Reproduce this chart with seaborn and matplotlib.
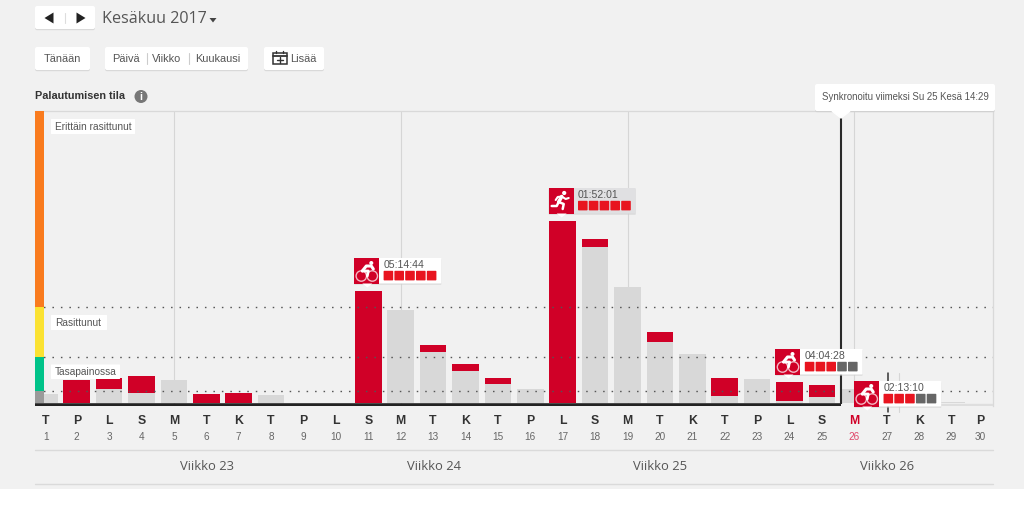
import matplotlib
matplotlib.use("Agg")
import matplotlib.pyplot as plt
from matplotlib.patches import Rectangle, FancyBboxPatch, Polygon, Circle
import pandas as pd
import seaborn as sns

# -----------------------------
# data
# -----------------------------
days = list(range(1, 31))
day_letters = ["T", "P", "L", "S", "M", "T", "K", "T", "P", "L",
               "S", "M", "T", "K", "T", "P", "L", "S", "M", "T",
               "K", "T", "P", "L", "S", "M", "T", "K", "T", "P"]
total_load = [9, 23, 25, 27, 23, 9, 10, 8, 0, 0,
              112, 93, 58, 39, 25, 14, 182, 164, 116, 71,
              49, 25, 24, 21, 18, 14, 0, 0, 1.5, 0]
old_load = [9, 0, 14, 10, 23, 0, 0, 8, 0, 0,
            0, 93, 51, 32, 19, 14, 0, 156, 116, 61,
            49, 7, 24, 2, 6, 14, 0, 0, 1.5, 0]

level_names = ["Erittäin rasittunut", "Rasittunut", "Tasapainossa"]
level_edges = [0, 12, 46, 96, 292]
level_colors = ["#9a9a9a", "#00c389", "#fbe232", "#f97b1e"]

week_names = ["Viikko 23", "Viikko 24", "Viikko 25", "Viikko 26"]
week_mid_days = [6, 13, 20, 27]
mondays = [5, 12, 19, 26]
sync_day = 25.59

workout_days = [11, 17, 24, 26.43]
workout_tops = [112, 182, 21, -11]
workout_times = ["05:14:44", "01:52:01", "04:04:28", "02:13:10"]
workout_filled = [5, 5, 3, 3]
workout_kinds = ["bike", "run", "bike", "bike"]

# -----------------------------
# layout
# -----------------------------
BG = "#f1f1f1"
RED = "#d00027"
TXT = "#555555"
SANS = "Liberation Sans"
OPEN = "Open Sans"
day0_px, day_px = 76.7, 32.4
left_px, right_px, top_px, bottom_px, base_px = 35, 993, 111, 406, 403

sns.set_theme(style="white")
plt.rcParams["font.family"] = [SANS, "DejaVu Sans"]

fig = plt.figure(figsize=(10.24, 5.07), dpi=100, facecolor=BG)
ax = fig.add_axes([left_px / 1024, 1 - bottom_px / 507,
                   (right_px - left_px) / 1024, (bottom_px - top_px) / 507])
ax.set_facecolor(BG)

ov = fig.add_axes([0, 0, 1, 1], zorder=5)
ov.set_xlim(0, 1024)
ov.set_ylim(507, 0)
ov.axis("off")
ov.patch.set_alpha(0)

# -----------------------------
# bars
# -----------------------------
df = pd.DataFrame({"day": days, "total": total_load, "old": old_load})
sns.barplot(data=df, x="day", y="total", native_scale=True, width=0.82,
            color=RED, saturation=1, linewidth=0, ax=ax, zorder=2)
sns.barplot(data=df, x="day", y="old", native_scale=True, width=0.82,
            color="#d8d8d8", saturation=1, linewidth=0, ax=ax, zorder=2.1)

ax.set_xlim(2 + (left_px - day0_px) / day_px, 2 + (right_px - day0_px) / day_px)
ax.set_ylim(base_px - bottom_px, base_px - top_px)
ax.set_xlabel("")
ax.set_ylabel("")
ax.set_yticks([])

for s in ["left", "bottom"]:
    ax.spines[s].set_visible(False)
for s in ["top", "right"]:
    ax.spines[s].set_color("#d9d9d9")
    ax.spines[s].set_linewidth(0.9)

# tick labels, two rows
label_x = [d + 0.05 if d == 1 else d - 0.12 if d == 30 else d for d in days]
ax.set_xticks(label_x, [str(d) for d in days], fontsize=7.2, color="#666666")
ax.tick_params(axis="x", length=0, pad=18.5)
for lab, d in zip(ax.get_xticklabels(), days):
    if d == 26:
        lab.set_color("#e0476a")
for x, letter, d in zip(label_x, day_letters, days):
    ax.annotate(letter, xy=(x, 0), xycoords=ax.get_xaxis_transform(),
                xytext=(0, -15.5), textcoords="offset pixels", ha="center", va="center",
                fontsize=8.8, fontweight="bold", color=RED if d == 26 else "#333333",
                annotation_clip=False)

# guides
ax.vlines(mondays, ax.get_ylim()[0], ax.get_ylim()[1], color="#d6d6d6", lw=0.8, zorder=0.5)
for level in level_edges[1:4]:
    ax.axhline(level, color="#555555", lw=1.0, ls=(0, (1.1, 5)), zorder=3)
for i, c in enumerate(level_colors):
    ax.axhspan(level_edges[i], level_edges[i + 1], xmin=0, xmax=9 / 958, color=c, lw=0, zorder=4)
ax.hlines(-1.5, 28.6, ax.get_xlim()[1], color="#dedede", lw=2.4, zorder=3)
ax.hlines(-1.5, ax.get_xlim()[0], sync_day, color="#232323", lw=2.6, zorder=4)
ax.vlines(sync_day, -1, 285, color="#2a2a2a", lw=1.5, zorder=4)


# -----------------------------
# page furniture
# -----------------------------
def box(x0, y0, x1, y1, fc="white", shadow=True, round_px=2, z=2):
    if shadow:
        ov.add_patch(FancyBboxPatch((x0, y0 + 1.2), x1 - x0, y1 - y0,
                                    boxstyle=f"round,pad=0,rounding_size={round_px}",
                                    fc="#cfcfcf", ec="none", alpha=0.7, zorder=z))
    ov.add_patch(FancyBboxPatch((x0, y0), x1 - x0, y1 - y0,
                                boxstyle=f"round,pad=0,rounding_size={round_px}",
                                fc=fc, ec="none", zorder=z + 0.1))


def label(x, y, s, size=8, color=TXT, ha="center", family=SANS, weight="normal", z=3):
    ov.text(x, y, s, fontsize=size, color=color, ha=ha, va="center",
            family=family, fontweight=weight, zorder=z)


# month navigation
box(35, 6, 95, 29)
ov.add_patch(Polygon([[44.5, 18], [53.5, 12.5], [53.5, 23.5]], fc="#222222", ec="none", zorder=3))
ov.add_patch(Polygon([[85.5, 18], [76.5, 12.5], [76.5, 23.5]], fc="#222222", ec="none", zorder=3))
ov.plot([64.5, 64.5], [13, 23], color="#dddddd", lw=0.8, zorder=3)
label(102, 19, "Kesäkuu 2017", size=11.6, ha="left", family=OPEN)
ov.add_patch(Polygon([[209.5, 18], [216.5, 18], [213, 22.5]], fc="#444444", ec="none", zorder=3))

# view buttons
box(35, 47, 90, 70)
label(62.5, 58.5, "Tänään", size=7.9)
box(105, 47, 248, 70)
label(126, 58.5, "Päivä", size=7.9)
label(167, 58.5, "Viikko", size=7.9)
label(218, 58.5, "Kuukausi", size=7.9)
for sep in [146.5, 188.5]:
    ov.plot([sep, sep], [53, 64], color="#cccccc", lw=0.8, zorder=3)
box(264, 47, 324, 70)
ov.add_patch(Rectangle((272.5, 53), 14, 11, fc="none", ec="#333333", lw=1.1, zorder=3))
ov.plot([272.5, 286.5], [55.5, 55.5], color="#333333", lw=1.3, zorder=3)
ov.plot([276, 276], [50.5, 53], color="#333333", lw=1, zorder=3)
ov.plot([283, 283], [50.5, 53], color="#333333", lw=1, zorder=3)
ov.plot([279.5, 279.5], [57, 63], color="#333333", lw=1, zorder=3)
ov.plot([276.5, 282.5], [60, 60], color="#333333", lw=1, zorder=3)
label(303, 58.5, "Lisää", size=7.9)

# title row
label(35, 96, "Palautumisen tila", size=7.8, color="#333333", ha="left", weight="bold")
ov.add_patch(Circle((141, 96.5), 6.5, fc="#777777", ec="none", zorder=3))
label(141, 96.5, "i", size=7.5, color="white", weight="bold", z=4)

# level name tags
tag_rows = [(119, 134, 135), (315, 330, 107), (364.5, 379, 120)]
for name, (y0, y1, x1) in zip(level_names, tag_rows):
    box(51, y0, x1, y1, shadow=False, round_px=0.5, z=4)
    label(55, (y0 + y1) / 2, name, size=7.3, ha="left", z=5)

# sync tooltip
box(815, 84, 995, 111, z=4)
ov.add_patch(Polygon([[832, 111], [850, 111], [841, 118]], fc="white", zorder=4.2))
label(905, 97.5, "Synkronoitu viimeksi Su 25 Kesä 14:29", size=6.9, z=5)

# hover cursor lines near the last badge
ov.plot([887.6, 887.6], [373, 412], color="#333333", lw=1.1, zorder=1)
ov.plot([899.3, 899.3], [373, 412], color="#d6d6d6", lw=0.8, zorder=1)

# weeks
for y in [450, 484]:
    ov.plot([left_px, right_px], [y, y], color="#dadada", lw=1, zorder=1)
for d, name in zip(week_mid_days, week_names):
    label(day0_px + (d - 2) * day_px + 0.5, 467, name, size=9.4, family=OPEN)
ov.add_patch(Rectangle((0, 489), 1024, 18, fc="white", ec="none", zorder=1))


# -----------------------------
# workout badges
# -----------------------------
def draw_bike(x, y):
    c = dict(color="white", zorder=7, solid_capstyle="round")
    for cx in [x + 7, x + 18]:
        ov.add_patch(Circle((cx, y + 18), 5.2, fc="none", ec="#f3b7c3", lw=1, zorder=7))
    ov.add_patch(Circle((x + 17, y + 5), 2, fc="white", ec="none", zorder=7))
    ov.plot([x + 8, x + 12, x + 17, x + 19], [y + 13, y + 8, y + 8, y + 11], lw=2.2, **c)
    ov.plot([x + 8, x + 14, x + 13], [y + 13, y + 13, y + 18], lw=2, **c)


def draw_run(x, y):
    c = dict(color="white", zorder=7, solid_capstyle="round")
    ov.add_patch(Circle((x + 15.5, y + 5), 2.1, fc="white", ec="none", zorder=7))
    ov.plot([x + 13, x + 10], [y + 8.5, y + 14], lw=2.6, **c)
    ov.plot([x + 13, x + 17, x + 20], [y + 8.5, y + 11, y + 10], lw=1.5, **c)
    ov.plot([x + 13, x + 9, x + 7], [y + 8.5, y + 9, y + 12], lw=1.5, **c)
    ov.plot([x + 10, x + 15, x + 14], [y + 14, y + 16, y + 21], lw=1.8, **c)
    ov.plot([x + 10, x + 8, x + 3], [y + 14, y + 18, y + 18], lw=1.8, **c)


for day, top, when, filled, kind in zip(workout_days, workout_tops, workout_times,
                                        workout_filled, workout_kinds):
    px = ov.transData.inverted().transform(ax.transData.transform((day, top)))
    x0, y0 = px[0] - 14, px[1] - 33
    panel = "#e0e0e2" if kind == "run" else "white"
    box(x0, y0, x0 + 87, y0 + 25.5, fc=panel, round_px=0.5, z=5)
    ov.add_patch(Rectangle((x0, y0), 25, 25.5, fc=RED, ec="none", zorder=6))
    ov.add_patch(Polygon([[x0 + 8, y0 + 25.5], [x0 + 18, y0 + 25.5], [x0 + 13, y0 + 29.5]],
                         fc="white", ec="none", zorder=6))
    draw_run(x0, y0) if kind == "run" else draw_bike(x0, y0)
    label(x0 + 29, y0 + 7, when, size=7.6, ha="left", z=7)
    for i in range(5):
        fc = "#e8141f" if i < filled else "#666666"
        ov.add_patch(FancyBboxPatch((x0 + 29.3 + i * 10.8, y0 + 12.8), 9.6, 9.6,
                                    boxstyle="round,pad=0,rounding_size=0.8",
                                    fc=fc, ec="none", zorder=7))

plt.savefig("out.png", dpi=100, facecolor=fig.get_facecolor())
plt.close()
